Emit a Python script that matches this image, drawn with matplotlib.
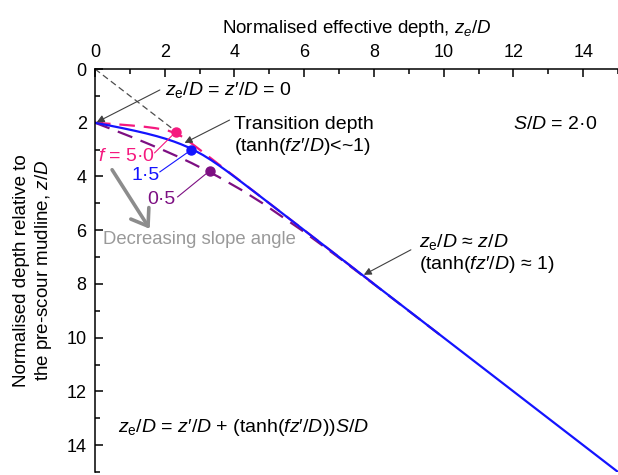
import matplotlib
matplotlib.use("Agg")
import matplotlib.pyplot as plt
from matplotlib.ticker import MultipleLocator

plt.rcParams['font.family'] = ['Liberation Sans', 'DejaVu Sans']
plt.rcParams['mathtext.fontset'] = 'custom'
plt.rcParams['mathtext.rm'] = 'Liberation Sans'
plt.rcParams['mathtext.it'] = 'Liberation Sans:italic'
plt.rcParams['font.size'] = 14

# curves: effective depth ze/D vs depth z/D (S/D = 2.0)
ze_f50 = [0, 0.540, 1.024, 1.420, 1.723, 1.947, 2.110, 2.328, 2.473, 2.590, 2.799, 3.0, 3.5, 4.0, 8.0]
z_f50 = [2, 2.05, 2.1, 2.15, 2.2, 2.25, 2.3, 2.4, 2.5, 2.6, 2.8, 3.0, 3.5, 4.0, 8.0]

ze_f15 = [0, 0.398, 0.783, 1.144, 1.474, 1.770, 2.033, 2.264, 2.467, 2.648, 2.810,
          3.094, 3.341, 3.567, 3.782, 3.990, 4.498, 5.0, 6.0, 15.0]
z_f15 = [2, 2.1, 2.2, 2.3, 2.4, 2.5, 2.6, 2.7, 2.8, 2.9, 3.0,
         3.2, 3.4, 3.6, 3.8, 4.0, 4.5, 5, 6, 15]

ze_f05 = [0, 0.499, 0.990, 1.467, 1.924, 2.359, 2.770, 3.523, 4.197, 4.810, 5.928, 6.973, 7.990, 9.999]
z_f05 = [2, 2.25, 2.5, 2.75, 3, 3.25, 3.5, 4, 4.5, 5, 6, 7, 8, 10]

# transition depth points
trans_ze = [2.31, 2.76, 3.29]
trans_z = [2.35, 3.01, 3.79]

# ze = z reference line
ref_ze = [0, 2.3]
ref_z = [0, 2.3]

pink = '#f5197f'
blue = '#1414ff'
purple = '#7d0f82'

fig = plt.figure(figsize=(6.18, 4.75), dpi=100)
ax = fig.add_axes([95 / 618, 3 / 475, 523 / 618, 403 / 475])

ax.plot(ref_ze, ref_z, color='0.3', lw=0.9, ls=(0, (5, 3)))
ax.plot(ze_f05, z_f05, color=purple, lw=1.6, ls=(0, (7, 4)))
ax.plot(ze_f50, z_f50, color=pink, lw=1.6, ls=(0, (7, 4)))
ax.plot(ze_f15, z_f15, color=blue, lw=1.6)

ax.plot(trans_ze[0], trans_z[0], 'o', color=pink, ms=6.5)
ax.plot(trans_ze[1], trans_z[1], 'o', color=blue, ms=6.5)
ax.plot(trans_ze[2], trans_z[2], 'o', color=purple, ms=6.5)

ax.set_xlim(0, 15)
ax.set_ylim(15, 0)
ax.xaxis.set_ticks_position('top')
ax.xaxis.set_label_position('top')
ax.xaxis.set_major_locator(MultipleLocator(2))
ax.xaxis.set_minor_locator(MultipleLocator(1))
ax.yaxis.set_major_locator(MultipleLocator(2))
ax.yaxis.set_minor_locator(MultipleLocator(1))
ax.tick_params(which='major', direction='in', length=6, width=1.1, labelsize=13, pad=6)
ax.tick_params(which='minor', direction='in', length=3.5, width=1.1)
for s in ['right', 'bottom']:
    ax.spines[s].set_visible(False)
for s in ['top', 'left']:
    ax.spines[s].set_linewidth(1.1)

ax.set_xlabel(r'Normalised effective depth, $z_e/D$', fontsize=13.5, labelpad=8)
ax.set_ylabel('Normalised depth relative to\nthe pre-scour mudline, $z/D$', fontsize=13.5, labelpad=9)

arrow = dict(arrowstyle='-|>', color='0.25', lw=0.8, mutation_scale=11, shrinkA=0, shrinkB=0)

ax.text(2.0, 0.78, r'$z_{\rm e}/D$ = $z$′/$D$ = 0', va='center', ha='left')
ax.annotate('', xy=(0.05, 1.98), xytext=(1.86, 0.78), arrowprops=arrow)

ax.text(4.0, 2.5, 'Transition depth\n(tanh($fz$′/$D$)<~1)', va='center', ha='left', linespacing=1.2)
ax.annotate('', xy=(2.57, 2.75), xytext=(3.86, 1.9), arrowprops=arrow)

ax.text(9.3, 6.86, r'$z_{\rm e}/D$ ≈ $z/D$' + '\n(tanh($fz$′/$D$) ≈ 1)', va='center', ha='left', linespacing=1.1)
ax.annotate('', xy=(7.71, 7.66), xytext=(9.06, 6.73), arrowprops=arrow)

ax.text(12.0, 2.06, '$S/D$ = 2·0', va='center', ha='left')
ax.text(0.66, 13.35, r'$z_{\rm e}/D$ = $z$′/$D$ + (tanh($fz$′/$D$))$S/D$', va='center', ha='left')

# f labels with leader lines to the dots
ax.text(0.09, 3.27, '$f$ = 5·0', color=pink, va='center', ha='left')
ax.plot([1.71, trans_ze[0]], [3.12, trans_z[0]], color=pink, lw=0.8)
ax.text(1.06, 3.98, '1·5', color=blue, va='center', ha='left')
ax.plot([1.86, trans_ze[1]], [3.83, trans_z[1]], color=blue, lw=0.8)
ax.text(1.51, 4.87, '0·5', color=purple, va='center', ha='left')
ax.plot([2.37, trans_ze[2]], [4.76, trans_z[2]], color=purple, lw=0.8)

ax.annotate('', xy=(1.57, 5.95), xytext=(0.49, 3.75),
            arrowprops=dict(arrowstyle='->, head_length=0.5, head_width=0.35', color='#8c8c8c',
                            lw=2.6, mutation_scale=22, shrinkA=0, shrinkB=0))
ax.text(0.23, 6.36, 'Decreasing slope angle', color='#999999', va='center', ha='left', fontsize=13.3)

fig.savefig('out.png', dpi=100)
